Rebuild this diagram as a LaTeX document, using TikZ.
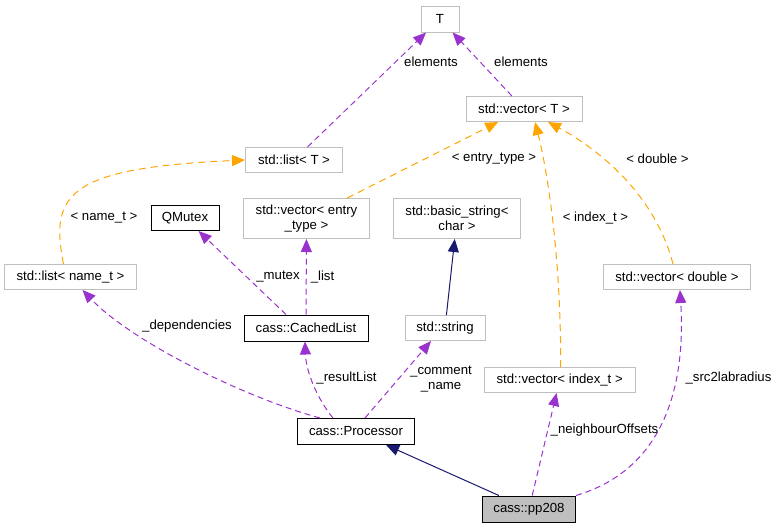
\documentclass[tikz,border=0pt]{standalone}
\usepackage{fontspec}
\setmainfont{Liberation Sans}
\usepackage{xcolor}
\usepackage{tikz}
\usetikzlibrary{
  positioning,
  arrows.meta
}
\definecolor{usecol}{HTML}{9A32CD}
\definecolor{tplcol}{HTML}{FFA500}
\definecolor{inhcol}{HTML}{191970}
\definecolor{boxgray}{HTML}{BFBFBF}
\tikzset{
  >={Triangle[length=13pt,width=11pt]},
  cls/.style={rectangle,draw=boxgray,line width=1pt,inner sep=0pt,minimum height=25pt,align=center},
  clsdoc/.style={rectangle,draw=black,line width=1pt,inner sep=0pt,minimum height=26pt,align=center},
  usage/.style={->,draw=usecol,line width=1pt,dash pattern=on 6pt off 4pt},
  tmpl/.style={->,draw=tplcol,line width=1pt,dash pattern=on 7pt off 5pt},
  inherit/.style={->,draw=inhcol,line width=1pt},
  lbl/.style={inner sep=0pt,align=center}
}

\begin{document}
\begin{tikzpicture}[x=1pt,y=-1pt,font=\fontsize{13.2}{15}\selectfont]
    \useasboundingbox (0,0) rectangle (777,528);

    % classes
    \node[cls,minimum width=38pt,minimum height=26pt] (T) at (440,19) {T};
    \node[cls,minimum width=116pt] (vecT) at (524,109) {std::vector< T >};
    \node[cls,minimum width=97pt] (listT) at (294,160) {std::list< T >};
    \node[cls,minimum width=132pt] (listName) at (70.5,277) {std::list< name\_t >};
    \node[clsdoc,minimum width=68pt,minimum height=25pt] (qmutex) at (185,218) {QMutex};
    \node[cls,minimum width=126pt,minimum height=40pt] (vecEntry) at (306.5,218.5) {std::vector< entry\\\_type >};
    \node[clsdoc,minimum width=124pt] (cached) at (306,328) {cass::CachedList};
    \node[cls,minimum width=127pt,minimum height=40pt] (bstring) at (457,218.5) {std::basic\_string<\\char >};
    \node[cls,minimum width=80pt] (string) at (445,328) {std::string};
    \node[cls,minimum width=147pt] (vecDouble) at (677,277) {std::vector< double >};
    \node[cls,minimum width=151pt] (vecIndex) at (559.7,380) {std::vector< index\_t >};
    \node[clsdoc,minimum width=117pt] (proc) at (356,431.5) {cass::Processor};
    \node[clsdoc,minimum width=93pt,fill=boxgray] (pp) at (529,509) {cass::pp208};

    % template instances
    \draw[tmpl] ([xshift=-7]listName.north) .. controls (50,195) and (66,168) .. (listT.west);
    \draw[tmpl] (vecEntry) -- (vecT);
    \draw[tmpl] ([xshift=1]vecIndex.north) .. controls (561,250) and (546,165) .. ([xshift=11]vecT.south);
    \draw[tmpl] ([xshift=-4]vecDouble.north) .. controls (655,195) and (600,150) .. ([xshift=24]vecT.south);
    \node[lbl] (lName) at (104,218) {< name\_t >};
    \node[lbl] (lEntry) at (494,159) {< entry\_type >};
    \node[lbl] (lIndex) at (595.5,218) {< index\_t >};
    \node[lbl] (lDouble) at (657.5,159) {< double >};

    % members
    \draw[usage] (listT) -- (T);
    \draw[usage] (vecT) -- (T);
    \draw[usage] ([xshift=-20]cached.north) -- (qmutex);
    \draw[usage] (cached) -- (vecEntry);
    \draw[usage] ([xshift=-36]proc.north) .. controls (240,396) and (130,340) .. ([xshift=12]listName.south);
    \draw[usage] ([xshift=-23]proc.north) .. controls (318,400) and (306,372) .. ([xshift=-1]cached.south);
    \draw[usage] ([xshift=9]proc.north) -- ([xshift=-14]string.south);
    \draw[usage] (pp) -- (vecIndex);
    \draw[usage] (pp.north east) .. controls (662,470) and (686,390) .. ([xshift=3]vecDouble.south);
    \node[lbl] (lElemA) at (431,62) {elements};
    \node[lbl] (lElemB) at (521,62) {elements};
    \node[lbl] (lMutex) at (278,277) {\_mutex};
    \node[lbl] (lList) at (322.5,277) {\_list};
    \node[lbl] (lDeps) at (187,326) {\_dependencies};
    \node[lbl] (lResult) at (346.5,378) {\_resultList};
    \node[lbl] (lComment) at (441,379.5) {\_comment\\\_name};
    \node[lbl] (lOffsets) at (604.5,430.5) {\_neighbourOffsets};
    \node[lbl] (lSrc) at (728.5,378) {\_src2labradius};

    % base classes
    \draw[inherit] (string) -- (bstring);
    \draw[inherit] (pp) -- (proc);
\end{tikzpicture}
\end{document}
